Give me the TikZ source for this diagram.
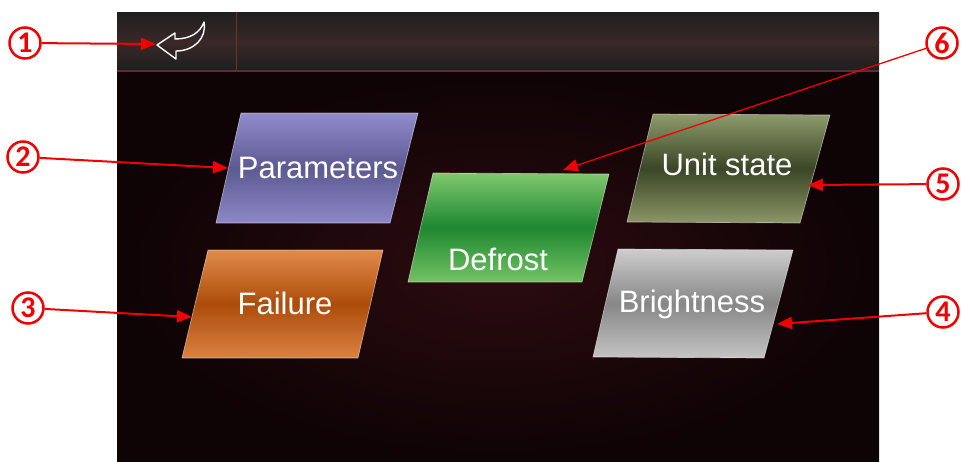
\documentclass[tikz,border=0pt]{standalone}
\usepackage{fontspec}
\setmainfont{Liberation Sans}
\newfontfamily\numfont{Carlito}[BoldFont={Carlito Bold}]
\usetikzlibrary{arrows.meta}
\definecolor{annred}{HTML}{F00000}
\definecolor{bgin}{HTML}{2C0C10}
\definecolor{bgout}{HTML}{0E0305}
\definecolor{barmid}{RGB}{58,40,40}
\definecolor{barline}{RGB}{92,45,62}
\definecolor{sepc}{RGB}{105,55,35}
\definecolor{parT}{RGB}{145,140,205}\definecolor{parM}{RGB}{92,90,145}\definecolor{parB}{RGB}{140,136,200}
\definecolor{defT}{RGB}{128,200,110}\definecolor{defM}{RGB}{30,135,48}\definecolor{defB}{RGB}{115,195,100}
\definecolor{uniT}{RGB}{142,155,108}\definecolor{uniM}{RGB}{58,70,38}\definecolor{uniB}{RGB}{140,150,104}
\definecolor{briT}{RGB}{205,205,205}\definecolor{briM}{RGB}{135,135,135}\definecolor{briB}{RGB}{196,196,196}
\definecolor{faiT}{RGB}{226,140,74}\definecolor{faiM}{RGB}{172,76,10}\definecolor{faiB}{RGB}{218,130,66}
\tikzset{
  lbl/.style={text=white,font=\fontsize{31}{31}\selectfont,anchor=base,inner sep=0pt},
  numc/.style={circle,draw=annred,line width=2.5pt,minimum size=31pt,inner sep=0pt,
    text=annred,font=\numfont\bfseries\fontsize{30}{30}\selectfont},
  ann/.style={draw=annred,line width=2pt,-{Triangle[length=15pt,width=12pt]}},
  annthin/.style={draw=annred,line width=1.3pt,-{Triangle[length=15pt,width=12pt]}},
  tile/.style={draw=white,draw opacity=0.5,line width=0.7pt}
}
\begin{document}
\begin{tikzpicture}[x=1pt,y=-1pt]
\useasboundingbox (0,0) rectangle (962,461);
% screen background
\shade[inner color=bgin,outer color=bgout] (117,72) rectangle (879,461);
% top bar
\shade[top color=black!88,bottom color=barmid] (117,12) rectangle (879,42);
\shade[top color=barmid,bottom color=black!88] (117,42) rectangle (879,70);
\fill[barline] (117,69.5) rectangle (879,72);
\draw[sepc,line width=1pt] (236,12) -- (236,69.5);
% back icon
\draw[white,line width=1.4pt,line join=round]
  (157,45) -- (175,33) -- (175,39)
  .. controls (190,39) and (200,33) .. (204,22)
  .. controls (207,38) and (194,51) .. (176,51)
  -- (176,59) -- cycle;
% tiles
\shade[tile,top color=parT,bottom color=parB,middle color=parM]
  (241,113) -- (418,113) -- (390,223) -- (216,223) -- cycle;
\shade[tile,top color=defT,bottom color=defB,middle color=defM]
  (433,173) -- (609,174) -- (582,282) -- (408,282) -- cycle;
\shade[tile,top color=uniT,bottom color=uniB,middle color=uniM]
  (653,114) -- (830,115) -- (800,223) -- (627,222) -- cycle;
\shade[tile,top color=briT,bottom color=briB,middle color=briM]
  (618,249) -- (793,250) -- (764,358) -- (593,357) -- cycle;
\shade[tile,top color=faiT,bottom color=faiB,middle color=faiM]
  (208,250) -- (383,250) -- (358,358) -- (182,358) -- cycle;
% labels
\node[lbl] (lpar) at (318,178) {Parameters};
\node[lbl] (ldef) at (498,270) {Defrost};
\node[lbl] (luni) at (727,175) {Unit state};
\node[lbl] (lbri) at (692,312) {Brightness};
\node[lbl] (lfai) at (285,314) {Failure};
% annotations
\node[numc] (n1) at (25,43) {1};
\node[numc] (n2) at (23,157) {2};
\node[numc] (n3) at (28,308) {3};
\node[numc] (n4) at (943,312) {4};
\node[numc] (n5) at (943,184) {5};
\node[numc] (n6) at (942,43) {6};
\coordinate (t1) at (156,44);
\coordinate (t2) at (228,168);
\coordinate (t3) at (192,317);
\coordinate (t4) at (777,324);
\coordinate (t5) at (808,185);
\coordinate (t6) at (563,170);
\draw[ann] (n1) -- (t1);
\draw[ann] (n2) -- (t2);
\draw[ann] (n3) -- (t3);
\draw[ann] (n4) -- (t4);
\draw[ann] (n5) -- (t5);
\draw[annthin] (n6) -- (t6);
\end{tikzpicture}
\end{document}
